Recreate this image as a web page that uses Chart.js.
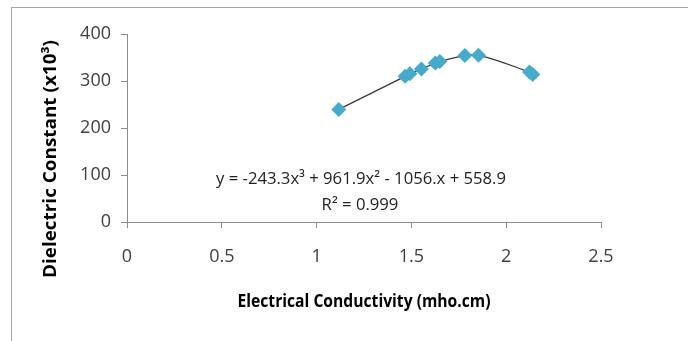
<!DOCTYPE html>
<html>
<head>
<meta charset="utf-8">
<script src="https://cdn.jsdelivr.net/npm/chart.js@4.4.1/dist/chart.umd.min.js"></script>
<style>
  html, body { margin: 0; padding: 0; background: #fff; overflow: hidden; }
  #wrap { position: relative; width: 688px; height: 341px; }
  #frame { position: absolute; left: 11px; top: 7px; width: 700px; height: 340px; border: 1px solid #a6a6a6; box-sizing: border-box; }
  canvas { position: absolute; left: 0; top: 0; }
</style>
</head>
<body>
<div id="wrap">
  <div id="frame"></div>
  <canvas id="c" width="688" height="341"></canvas>
</div>
<script>
// Data
const conductivity = [1.117, 1.467, 1.492, 1.553, 1.626, 1.650, 1.782, 1.854, 2.123, 2.140];
const dielectric   = [239.5, 310.0, 315.5, 325.5, 338.5, 341.5, 354.0, 355.0, 319.0, 314.0];
const xTicks = [0, 0.5, 1, 1.5, 2, 2.5];
const yTicks = [0, 100, 200, 300, 400];
const xTitle = 'Electrical Conductivity (mho.cm)';
const yTitle = 'Dielectric Constant (x10³)';
const equationText = 'y = -243.3x³ + 961.9x² - 1056.x + 558.9';
const r2Text = 'R² = 0.999';

const FONT = '"Open Sans", sans-serif';

const points = conductivity.map((x, i) => ({ x: x, y: dielectric[i] }));

// draw text with a fixed glyph size, compressed horizontally to a target width (Calibri-like look)
function drawCondensed(ctx, text, x, y, size, weight, targetWidth, color, rot) {
  ctx.save();
  ctx.font = weight + ' ' + size + 'px ' + FONT;
  ctx.fillStyle = color;
  ctx.textAlign = 'center';
  ctx.textBaseline = 'middle';
  const w = ctx.measureText(text).width;
  ctx.translate(x, y);
  if (rot) ctx.rotate(rot);
  ctx.scale(targetWidth / w, 1);
  ctx.fillText(text, 0, 0);
  ctx.restore();
}

const textPlugin = {
  id: 'texts',
  afterDraw(chart) {
    const ctx = chart.ctx;
    const xs = chart.scales.x;
    drawCondensed(ctx, xTitle, (xs.left + xs.right) / 2, 302, 18, 'bold', 253, '#000');
    drawCondensed(ctx, yTitle, 51, 159, 18, 'bold', 238, '#000', -Math.PI / 2);
    const eqSize = 17;
    ctx.font = eqSize + 'px ' + FONT;
    const eqW = ctx.measureText(equationText).width;
    const sc = 290 / eqW;
    drawCondensed(ctx, equationText, 361, 179, eqSize, 'normal', 290, '#222');
    ctx.font = eqSize + 'px ' + FONT;
    drawCondensed(ctx, r2Text, 360, 205, eqSize, 'normal', ctx.measureText(r2Text).width * sc, '#222');
  }
};

new Chart(document.getElementById('c'), {
  type: 'scatter',
  data: {
    datasets: [
      {
        label: 'trend',
        data: points,
        showLine: true,
        borderColor: '#3a3a3a',
        borderWidth: 1.3,
        tension: 0.4,
        pointRadius: 0,
        order: 2
      },
      {
        label: 'data',
        data: points,
        pointStyle: 'rectRot',
        pointRadius: 7.5,
        backgroundColor: '#45abcb',
        borderColor: '#45abcb',
        borderWidth: 0,
        order: 1
      }
    ]
  },
  options: {
    responsive: false,
    animation: false,
    devicePixelRatio: 1,
    layout: { padding: { left: 0, top: 34, right: 87, bottom: 0 } },
    plugins: { legend: { display: false }, tooltip: { enabled: false } },
    scales: {
      x: {
        type: 'linear',
        min: 0, max: 2.5,
        afterFit(scale) { scale.height = 119; },
        afterBuildTicks(scale) { scale.ticks = xTicks.map(v => ({ value: v })); },
        ticks: {
          color: '#404040',
          font: { family: FONT, size: 18 },
          padding: 18,
          callback: v => String(v)
        },
        grid: { drawOnChartArea: false, drawTicks: true, tickLength: 6, color: '#8c8c8c' },
        border: { color: '#8c8c8c', width: 1 },
        title: { display: false }
      },
      y: {
        type: 'linear',
        min: 0, max: 400,
        afterFit(scale) { scale.width = 127; },
        afterBuildTicks(scale) { scale.ticks = yTicks.map(v => ({ value: v })); },
        ticks: {
          color: '#404040',
          font: { family: FONT, size: 18 },
          padding: 10,
          callback: v => String(v)
        },
        grid: { drawOnChartArea: false, drawTicks: true, tickLength: 6, color: '#8c8c8c' },
        border: { color: '#8c8c8c', width: 1 },
        title: { display: false }
      }
    }
  },
  plugins: [textPlugin]
});
</script>
</body>
</html>
